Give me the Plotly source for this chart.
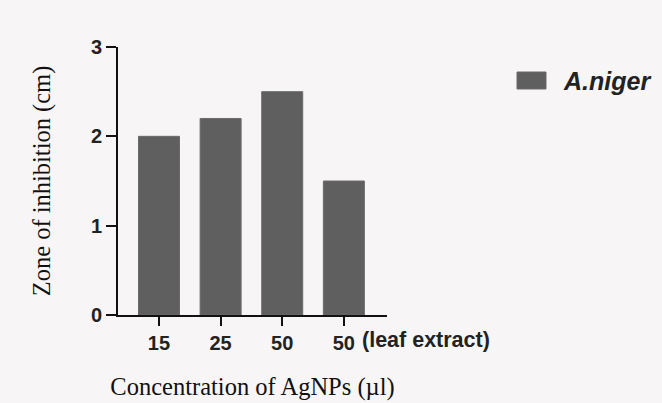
import plotly.graph_objects as go

categories = ["15", "25", "50", "50"]
values = [2.0, 2.2, 2.5, 1.5]
series_name = "A.niger"
y_ticks = [0, 1, 2, 3]

x_pos = list(range(len(categories)))
bg = "#f8f5f6"
bar_color = "#5f5f5f"

fig = go.Figure()
fig.add_trace(go.Bar(
    x=x_pos, y=values, name=series_name,
    marker=dict(color=bar_color, line=dict(color="#6a6a6a", width=1)),
    showlegend=False,
))

fig.update_layout(
    width=662, height=403,
    margin=dict(l=118, r=275, t=47, b=88, autoexpand=False),
    paper_bgcolor=bg, plot_bgcolor=bg,
    bargap=0.335,
    font=dict(family="Liberation Sans", color="#111111"),
)

fig.update_xaxes(
    range=[-0.665, 3.7],
    tickvals=x_pos, ticktext=categories,
    showline=True, linecolor="#111111", linewidth=2,
    ticks="outside", ticklen=9, tickwidth=2, tickcolor="#111111",
    tickfont=dict(family="Liberation Sans", size=20, weight="bold", color="#222222"),
    showgrid=False, zeroline=False,
    title=dict(text="Concentration of AgNPs (µl)",
               font=dict(family="Liberation Serif", size=24.5, color="#111111"),
               standoff=25),
)
fig.update_yaxes(
    range=[0, 3],
    tickvals=y_ticks,
    showline=True, linecolor="#111111", linewidth=2,
    ticks="outside", ticklen=10, tickwidth=2, tickcolor="#111111",
    tickfont=dict(family="Liberation Sans", size=20, weight="bold", color="#222222"),
    showgrid=False, zeroline=False,
    title=dict(text="Zone of inhibition (cm)",
               font=dict(family="Liberation Serif", size=24.5, color="#111111"),
               standoff=33),
)

# "(leaf extract)" suffix on last tick label
fig.add_annotation(
    x=x_pos[-1], xref="x", y=0, yref="paper",
    text="<b>(leaf extract)</b>", showarrow=False,
    xanchor="left", yanchor="middle", xshift=16, yshift=-25,
    font=dict(family="Liberation Sans", size=21.5, color="#222222"),
)

# legend
fig.add_shape(type="rect", xref="paper", yref="paper",
              x0=(517 - 118) / 269, x1=(546 - 118) / 269,
              y0=(315 - 89) / 268, y1=(315 - 72) / 268,
              fillcolor=bar_color, line=dict(color="#6a6a6a", width=1))
fig.add_annotation(
    x=(561 - 118) / 269, xref="paper", y=(315 - 80.5) / 268, yref="paper",
    text="<b><i>" + series_name + "</i></b>", showarrow=False,
    xanchor="left", yanchor="middle",
    font=dict(family="Liberation Sans", size=25, color="#222222"),
)

fig.write_html("out.html")
